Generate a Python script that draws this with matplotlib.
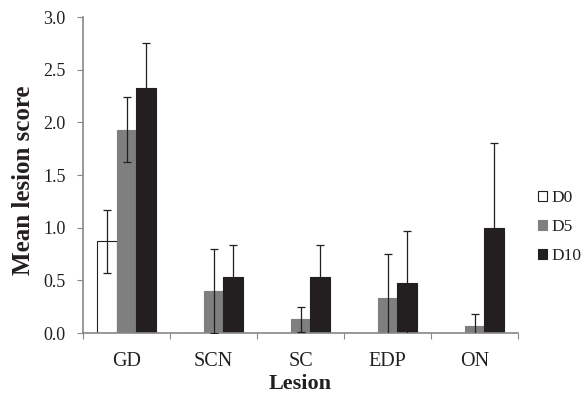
import matplotlib.pyplot as plt
import numpy as np

plt.rcParams['font.family'] = ['Liberation Serif', 'DejaVu Serif']

lesions = ['GD', 'SCN', 'SC', 'EDP', 'ON']
series = ['D0', 'D5', 'D10']
d0 = [0.87, 0.0, 0.0, 0.0, 0.0]
d5 = [1.93, 0.40, 0.13, 0.33, 0.07]
d10 = [2.33, 0.53, 0.53, 0.47, 1.00]
d0_err = [0.30, 0.0, 0.0, 0.0, 0.0]
d5_err = [0.31, 0.40, 0.12, 0.42, 0.11]
d10_err = [0.42, 0.31, 0.31, 0.50, 0.80]

colors = ['white', '#7f7f7f', '#231f20']
edges = ['#231f20', '#7f7f7f', '#231f20']
ink = '#231f20'

fig = plt.figure(figsize=(5.88, 4.01), dpi=100)
ax = fig.add_axes([83 / 588, 1 - 333 / 401, 435 / 588, 316 / 401])

x = np.arange(len(lesions))
w = 0.225
for i, (vals, errs) in enumerate(zip([d0, d5, d10], [d0_err, d5_err, d10_err])):
    ax.bar(x + (i - 1) * w, vals, w, color=colors[i], edgecolor=edges[i],
           linewidth=0.8, label=series[i], zorder=2)
    e = np.array(errs)
    mask = e > 0
    ax.errorbar((x + (i - 1) * w)[mask], np.array(vals)[mask], yerr=e[mask],
                fmt='none', ecolor=ink, elinewidth=0.9, capsize=3,
                capthick=0.9, zorder=3)

ax.set_xlim(-0.5, 4.5)
ax.set_ylim(0, 3.0)
yt = np.arange(0, 3.01, 0.5)
ax.set_yticks(yt)
ax.set_yticklabels(['%.1f' % v for v in yt], fontsize=13, color=ink)
ax.set_xticks(np.arange(-0.5, 4.6, 1.0))
ax.set_xticklabels([])
ax.set_xticks(x, minor=True)
ax.set_xticklabels(lesions, minor=True, fontsize=14.5, color=ink)
ax.tick_params(axis='x', which='minor', length=0, pad=14)
ax.tick_params(axis='x', which='major', length=4.5, color='#888888', direction='out')
ax.tick_params(axis='y', length=4.5, color='#888888', direction='out', pad=8)

for s in ['top', 'right']:
    ax.spines[s].set_visible(False)
for s in ['left', 'bottom']:
    ax.spines[s].set_color('#888888')
    ax.spines[s].set_linewidth(1.2)

ax.set_xlabel('Lesion', fontsize=16, fontweight='bold', color=ink)
ax.set_ylabel('Mean lesion score', fontsize=18, fontweight='bold', color=ink)
ax.xaxis.set_label_coords(0.5, (333 - 374) / 316)
ax.yaxis.set_label_coords((35 - 83) / 435, 0.5 - (180 - 175) / 316)

fig.legend(loc='upper left', bbox_to_anchor=(538 / 588, 1 - 190 / 401), frameon=False,
           fontsize=12.5, handlelength=0.5, handleheight=0.5, handletextpad=0.25,
           labelspacing=0.75, borderpad=0, borderaxespad=0, labelcolor=ink)

fig.savefig('out.png', dpi=100)
